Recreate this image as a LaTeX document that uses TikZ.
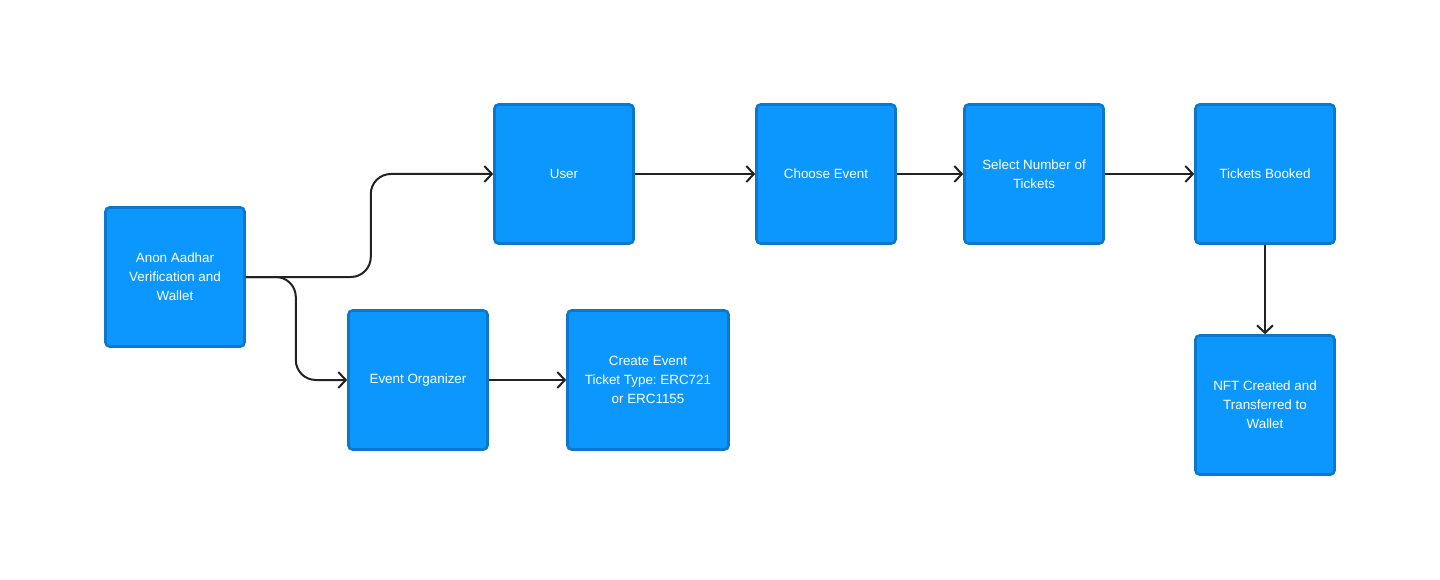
\documentclass[tikz,border=0pt]{standalone}
\usepackage{fontspec}
\setmainfont{Liberation Sans}
\usetikzlibrary{arrows.meta,positioning,calc}
\definecolor{BoxBlue}{HTML}{0C97FF}
\definecolor{EdgeBlue}{HTML}{0B78CC}
\definecolor{DarkText}{HTML}{222222}
\frenchspacing
\tikzset{
  box/.style={rounded corners=4pt, draw=EdgeBlue, fill=BoxBlue, line width=2.6pt, text=white, minimum width=139pt, minimum height=139pt, inner sep=2pt, align=center, font=\fontsize{13.4}{19}\selectfont},
  widebox/.style={box, minimum width=161pt},
  arr/.style={-{Straight Barb[length=7.5pt,width=16pt]}, line width=2pt, draw=DarkText, rounded corners=20pt}
}
\begin{document}
\begin{tikzpicture}[x=1pt,y=-1pt]
\useasboundingbox (0,0) rectangle (1440,580);
\node[box] (anon) at (175,277) {Anon Aadhar\\Verification and\\Wallet};
\node[box] (user) at (564,174) {User};
\node[box] (choose) at (826,174) {Choose Event};
\node[box] (select) at (1034,174) {Select Number of\\Tickets};
\node[box] (booked) at (1265,174) {Tickets Booked};
\node[box] (nft) at (1265,405) {NFT Created and\\Transferred to\\Wallet};
\node[box] (org) at (418,380) {Event Organizer};
\node[widebox] (create) at (648,380) {Create Event\\Ticket Type: ERC721\\or ERC1155};
\draw[arr] (anon.east) -- ++(125,0) |- (user.west);
\draw[arr] (anon.east) -- ++(50,0) |- (org.west);
\foreach \x/\y in {user/choose,choose/select,select/booked,booked/nft,org/create}{\draw[arr] (\x) -- (\y);}
\end{tikzpicture}
\end{document}
